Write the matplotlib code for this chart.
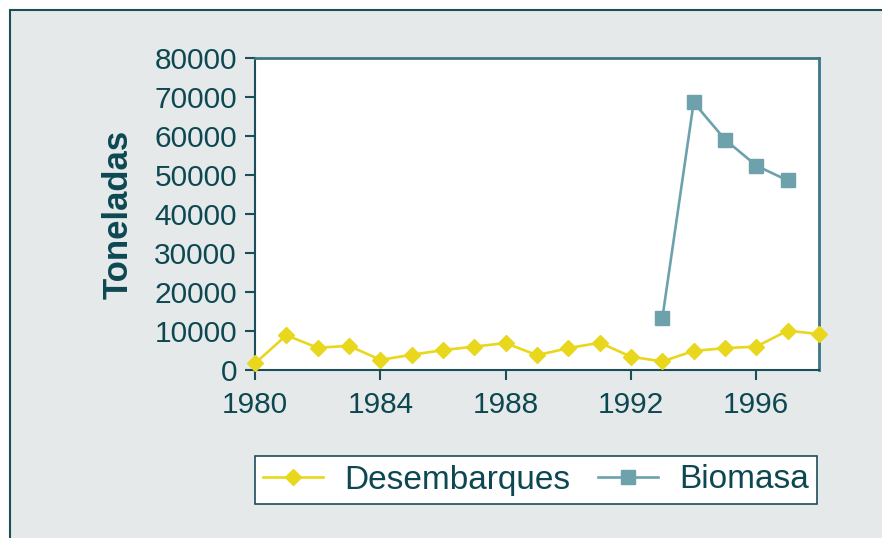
import numpy as np
import matplotlib.pyplot as plt
from matplotlib.patches import Rectangle

# data
anios = list(range(1980, 1999))
desembarques = [1700, 8900, 5700, 6200, 2600, 3900, 5100, 6000, 6900, 3800,
                5600, 7000, 3400, 2200, 4900, 5600, 6000, 10100, 9200]
anios_biomasa = [1993, 1994, 1995, 1996, 1997]
biomasa = [13300, 68600, 59100, 52400, 48600]

x_ticks = [1980, 1984, 1988, 1992, 1996]
y_ticks = list(range(0, 80001, 10000))

text_color = '#0D4852'
edge_color = '#1B4E58'
yellow = '#E8D71C'
teal = '#6DA2AD'
bg = '#E5E9EA'

plt.rcParams['font.family'] = ['Liberation Sans', 'DejaVu Sans']

fig = plt.figure(figsize=(8.82, 5.38), dpi=100)
W, H = 882, 538
# grey panel with dark frame, white margin top/left
fig.patches.append(Rectangle((10 / W, -0.1), 1.2, 1 - 10 / H + 0.1,
                             transform=fig.transFigure, facecolor=bg,
                             edgecolor=edge_color, linewidth=1.5, zorder=-10))

ax = fig.add_axes([255 / W, 1 - 370 / H, 564 / W, 312 / H])
ax.set_facecolor('white')

ax.plot(anios, desembarques, color=yellow, linewidth=1.9, marker='D',
        markersize=8, label='Desembarques', clip_on=False, zorder=3)
ax.plot(anios_biomasa, biomasa, color=teal, linewidth=1.9, marker='s',
        markersize=9.5, label='Biomasa', clip_on=False, zorder=3)

ax.set_xlim(1980, 1998)
ax.set_ylim(0, 80000)
ax.set_xticks(x_ticks)
ax.set_yticks(y_ticks)
ax.tick_params(axis='both', direction='out', length=7, width=1.5,
               color=edge_color, labelcolor=text_color, labelsize=21.5)
ax.tick_params(axis='x', pad=8)
ax.tick_params(axis='y', pad=6)
for side in ['left', 'bottom']:
    ax.spines[side].set_color(edge_color)
    ax.spines[side].set_linewidth(1.5)
for side in ['top', 'right']:
    ax.spines[side].set_color('#3B7683')
    ax.spines[side].set_linewidth(2)

ax.set_ylabel('Toneladas', fontsize=25, fontweight='bold', color=text_color,
              labelpad=14)

leg = ax.legend(loc='center', bbox_to_anchor=(536 / W, 1 - 480 / H),
                bbox_transform=fig.transFigure, ncol=2, frameon=True,
                fancybox=False, fontsize=24, handlelength=1.8,
                columnspacing=0.8, handletextpad=0.65, borderpad=0.25,
                borderaxespad=0, framealpha=1)
leg.get_frame().set_edgecolor(edge_color)
leg.get_frame().set_linewidth(1.2)
for t in leg.get_texts():
    t.set_color(text_color)

fig.savefig('out.png', dpi=100)
